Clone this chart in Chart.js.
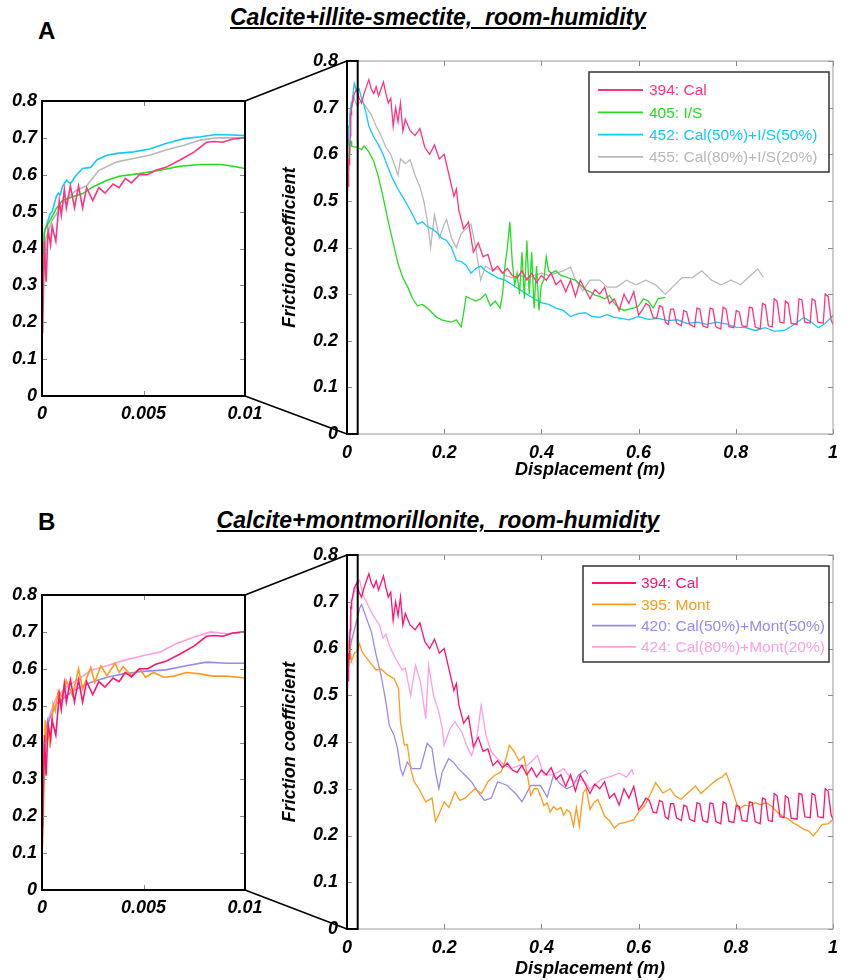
<!DOCTYPE html>
<html>
<head>
<meta charset="utf-8">
<script src="https://cdn.jsdelivr.net/npm/chart.js@4.4.1/dist/chart.umd.min.js"></script>
<style>
  body { margin: 0; width: 846px; height: 980px; position: relative; overflow: hidden; background: #fff;
         font-family: "Liberation Sans", Arial, sans-serif; }
  canvas { position: absolute; }
  .tag { position: absolute; font-weight: bold; font-size: 24px; line-height: 1; }
  .head { position: absolute; left: 0; width: 876px; text-align: center; font-weight: bold; font-style: italic;
          font-size: 23px; line-height: 1; text-decoration: underline; white-space: pre; }
</style>
</head>
<body>
<div class="tag" style="left:38px;top:19px">A</div>
<div class="head" style="top:6px">Calcite+illite-smectite,  room-humidity</div>
<div class="tag" style="left:38px;top:510px">B</div>
<div class="head" style="top:509px">Calcite+montmorillonite,  room-humidity</div>

<canvas id="links" width="846" height="980" style="left:0;top:0"></canvas>
<canvas id="insetA" width="272" height="345" style="left:0;top:85px"></canvas>
<canvas id="mainA" width="596" height="448" style="left:250px;top:40px"></canvas>
<canvas id="insetB" width="272" height="345" style="left:0;top:579px"></canvas>
<canvas id="mainB" width="596" height="446" style="left:250px;top:534px"></canvas>

<script>
// ---- tick values ----
const yTicks = [0, 0.1, 0.2, 0.3, 0.4, 0.5, 0.6, 0.7, 0.8];
const mainXTicks = [0, 0.2, 0.4, 0.6, 0.8, 1];
const insetXTicks = [0, 0.005, 0.01];
const zoomEdge = 0.022;   // right edge of the zoom box drawn on the main plot

// ---- series [displacement m, friction] : first 0.01 m (inset) ----
const cal394Early = [[0,0.35],[0.00003,0.17],[0.00012,0.42],[0.0002,0.31],[0.0003,0.45],[0.00042,0.41],[0.0005,0.46],[0.00068,0.42],[0.00085,0.53],[0.00095,0.49],[0.0011,0.56],[0.0012,0.51],[0.0014,0.57],[0.0016,0.51],[0.0018,0.57],[0.002,0.51],[0.0022,0.565],[0.0025,0.53],[0.0028,0.565],[0.0031,0.55],[0.0035,0.575],[0.0038,0.565],[0.0041,0.59],[0.0044,0.578],[0.0048,0.6],[0.0052,0.6],[0.0056,0.612],[0.0061,0.62],[0.0068,0.64],[0.0075,0.662],[0.0081,0.688],[0.0085,0.69],[0.0089,0.688],[0.0094,0.697],[0.01,0.7]];
const is405Early = [[0,0.3],[0.00005,0.32],[0.00013,0.45],[0.0004,0.476],[0.0007,0.508],[0.001,0.53],[0.0015,0.54],[0.002,0.549],[0.0025,0.567],[0.0032,0.585],[0.0038,0.596],[0.0048,0.603],[0.0058,0.612],[0.0068,0.623],[0.0078,0.628],[0.0088,0.628],[0.0094,0.623],[0.01,0.617]];
const mix452Early = [[0,0.25],[0.00005,0.29],[0.0001,0.44],[0.0004,0.494],[0.0005,0.5],[0.0007,0.54],[0.0008,0.55],[0.0009,0.545],[0.001,0.567],[0.0012,0.585],[0.0014,0.576],[0.0017,0.6],[0.002,0.617],[0.0024,0.62],[0.0027,0.64],[0.0032,0.653],[0.0037,0.658],[0.0045,0.662],[0.0053,0.67],[0.0061,0.685],[0.007,0.698],[0.0078,0.703],[0.0086,0.709],[0.0094,0.708],[0.01,0.706]];
const mix455Early = [[0,0.25],[0.00005,0.32],[0.0002,0.43],[0.0005,0.476],[0.0009,0.51],[0.0012,0.535],[0.0017,0.558],[0.0022,0.57],[0.0028,0.612],[0.0037,0.635],[0.0045,0.644],[0.0053,0.653],[0.0061,0.667],[0.007,0.68],[0.0078,0.694],[0.0086,0.7],[0.01,0.7]];
const mont395Early = [[0,0.1],[0.00005,0.154],[0.0001,0.33],[0.00016,0.46],[0.00025,0.4],[0.00033,0.44],[0.0004,0.386],[0.00055,0.504],[0.00065,0.486],[0.0008,0.54],[0.001,0.522],[0.0012,0.568],[0.0015,0.527],[0.0018,0.6],[0.002,0.545],[0.0024,0.604],[0.0026,0.563],[0.0029,0.608],[0.0032,0.581],[0.0036,0.615],[0.0038,0.59],[0.004,0.606],[0.0044,0.581],[0.0048,0.6],[0.0051,0.577],[0.0055,0.59],[0.006,0.577],[0.0065,0.58],[0.0071,0.59],[0.0078,0.586],[0.0084,0.58],[0.0091,0.58],[0.01,0.575]];
const mix420Early = [[0,0.2],[0.00005,0.295],[0.00016,0.43],[0.0004,0.468],[0.0007,0.504],[0.0012,0.527],[0.0017,0.545],[0.0024,0.563],[0.0032,0.577],[0.004,0.586],[0.005,0.593],[0.0061,0.597],[0.0071,0.608],[0.0081,0.618],[0.0091,0.615],[0.01,0.615]];
const mix424Early = [[0,0.2],[0.00005,0.3],[0.00016,0.44],[0.0004,0.477],[0.0007,0.522],[0.0012,0.55],[0.0017,0.568],[0.0024,0.595],[0.0032,0.608],[0.004,0.622],[0.005,0.636],[0.0058,0.645],[0.0066,0.668],[0.0075,0.686],[0.0083,0.7],[0.0091,0.695],[0.01,0.7]];

// ---- series after 0.01 m (main plots) ----
const cal394 = [[0.015,0.73],[0.02,0.74],[0.025,0.72],[0.03,0.71],[0.035,0.73],[0.04,0.745],[0.045,0.76],[0.05,0.74],[0.055,0.73],[0.06,0.745],[0.065,0.725],[0.07,0.74],[0.075,0.755],[0.08,0.73],[0.085,0.71],[0.09,0.72],[0.095,0.66],[0.1,0.7],[0.105,0.67],[0.11,0.71],[0.115,0.65],[0.12,0.675],[0.13,0.65],[0.14,0.64],[0.15,0.655],[0.16,0.615],[0.17,0.6],[0.18,0.62],[0.19,0.59],[0.2,0.6],[0.21,0.555],[0.22,0.51],[0.225,0.525],[0.23,0.48],[0.24,0.44],[0.25,0.455],[0.26,0.39],[0.27,0.41],[0.28,0.38],[0.29,0.385],[0.3,0.35],[0.31,0.36],[0.32,0.345],[0.33,0.355],[0.34,0.34],[0.35,0.335],[0.36,0.35],[0.37,0.33],[0.38,0.345],[0.39,0.325],[0.4,0.34],[0.41,0.33],[0.42,0.345],[0.43,0.32],[0.44,0.33],[0.45,0.305],[0.46,0.33],[0.47,0.295],[0.48,0.33],[0.49,0.31],[0.5,0.29],[0.51,0.31],[0.52,0.3],[0.53,0.315],[0.54,0.28],[0.55,0.29],[0.56,0.265],[0.57,0.3],[0.58,0.28],[0.59,0.305],[0.6,0.255],[0.607,0.265],[0.615,0.28],[0.622,0.275],[0.63,0.25],[0.637,0.248],[0.643,0.275],[0.649,0.272],[0.655,0.24],[0.661,0.235],[0.666,0.268],[0.672,0.268],[0.678,0.238],[0.688,0.232],[0.693,0.265],[0.699,0.262],[0.705,0.235],[0.715,0.23],[0.72,0.27],[0.726,0.268],[0.732,0.232],[0.742,0.228],[0.747,0.27],[0.753,0.268],[0.759,0.23],[0.769,0.225],[0.774,0.272],[0.78,0.268],[0.786,0.23],[0.796,0.228],[0.801,0.265],[0.807,0.262],[0.813,0.232],[0.823,0.23],[0.828,0.272],[0.834,0.27],[0.84,0.23],[0.85,0.225],[0.855,0.28],[0.861,0.277],[0.867,0.232],[0.875,0.23],[0.879,0.29],[0.885,0.285],[0.891,0.24],[0.899,0.238],[0.902,0.285],[0.908,0.28],[0.914,0.237],[0.926,0.235],[0.93,0.29],[0.936,0.288],[0.942,0.24],[0.953,0.238],[0.957,0.29],[0.963,0.286],[0.969,0.24],[0.98,0.238],[0.984,0.3],[0.99,0.295],[0.996,0.245],[1.0,0.235]];
const is405 = [[0.02,0.615],[0.03,0.61],[0.035,0.618],[0.045,0.605],[0.055,0.585],[0.065,0.55],[0.075,0.505],[0.085,0.455],[0.095,0.41],[0.105,0.365],[0.115,0.335],[0.125,0.315],[0.135,0.29],[0.145,0.275],[0.155,0.278],[0.165,0.27],[0.175,0.26],[0.185,0.25],[0.195,0.245],[0.205,0.242],[0.215,0.24],[0.225,0.245],[0.235,0.23],[0.24,0.26],[0.245,0.295],[0.255,0.29],[0.265,0.285],[0.275,0.29],[0.285,0.3],[0.295,0.275],[0.305,0.285],[0.315,0.27],[0.32,0.3],[0.325,0.36],[0.33,0.4],[0.335,0.455],[0.34,0.37],[0.345,0.32],[0.35,0.345],[0.355,0.3],[0.36,0.39],[0.365,0.29],[0.37,0.415],[0.375,0.3],[0.38,0.39],[0.385,0.27],[0.39,0.36],[0.395,0.265],[0.4,0.32],[0.405,0.33],[0.41,0.38],[0.415,0.35],[0.42,0.345],[0.43,0.35],[0.44,0.34],[0.45,0.337],[0.46,0.333],[0.47,0.33],[0.48,0.32],[0.49,0.31],[0.5,0.305],[0.51,0.298],[0.52,0.295],[0.53,0.29],[0.54,0.297],[0.55,0.28],[0.56,0.27],[0.57,0.265],[0.58,0.268],[0.59,0.27],[0.6,0.275],[0.61,0.29],[0.62,0.285],[0.63,0.27],[0.64,0.29],[0.655,0.293]];
const mix452 = [[0.015,0.752],[0.02,0.735],[0.025,0.74],[0.03,0.72],[0.035,0.705],[0.04,0.685],[0.045,0.66],[0.055,0.637],[0.065,0.62],[0.075,0.598],[0.085,0.57],[0.095,0.545],[0.105,0.525],[0.115,0.508],[0.125,0.49],[0.135,0.47],[0.145,0.45],[0.155,0.455],[0.165,0.445],[0.175,0.44],[0.185,0.432],[0.195,0.42],[0.205,0.415],[0.215,0.4],[0.225,0.372],[0.235,0.37],[0.245,0.362],[0.255,0.345],[0.265,0.355],[0.275,0.36],[0.285,0.35],[0.295,0.344],[0.31,0.335],[0.325,0.33],[0.34,0.32],[0.355,0.31],[0.37,0.3],[0.385,0.29],[0.4,0.282],[0.415,0.278],[0.43,0.27],[0.445,0.265],[0.46,0.252],[0.475,0.258],[0.49,0.26],[0.505,0.252],[0.52,0.25],[0.535,0.256],[0.55,0.25],[0.565,0.248],[0.58,0.245],[0.6,0.252],[0.62,0.246],[0.64,0.248],[0.66,0.243],[0.68,0.245],[0.7,0.237],[0.72,0.24],[0.74,0.235],[0.76,0.24],[0.78,0.236],[0.8,0.229],[0.82,0.228],[0.84,0.222],[0.86,0.228],[0.88,0.22],[0.9,0.222],[0.92,0.235],[0.94,0.25],[0.955,0.24],[0.97,0.228],[0.985,0.238],[1.0,0.254]];
const mix455 = [[0.015,0.72],[0.02,0.705],[0.03,0.715],[0.04,0.7],[0.05,0.685],[0.06,0.66],[0.07,0.64],[0.08,0.615],[0.09,0.6],[0.1,0.57],[0.105,0.555],[0.11,0.59],[0.12,0.58],[0.13,0.588],[0.14,0.555],[0.15,0.53],[0.158,0.5],[0.165,0.46],[0.172,0.4],[0.18,0.47],[0.19,0.42],[0.2,0.45],[0.205,0.46],[0.215,0.42],[0.225,0.4],[0.235,0.43],[0.245,0.44],[0.255,0.45],[0.265,0.4],[0.275,0.33],[0.285,0.36],[0.3,0.35],[0.31,0.355],[0.325,0.34],[0.34,0.335],[0.355,0.34],[0.37,0.335],[0.385,0.34],[0.4,0.345],[0.415,0.34],[0.43,0.345],[0.445,0.35],[0.46,0.358],[0.47,0.33],[0.485,0.307],[0.5,0.33],[0.52,0.33],[0.535,0.315],[0.555,0.315],[0.575,0.33],[0.595,0.32],[0.615,0.33],[0.635,0.32],[0.655,0.3],[0.67,0.315],[0.69,0.336],[0.71,0.335],[0.73,0.35],[0.75,0.33],[0.77,0.32],[0.79,0.33],[0.81,0.32],[0.825,0.335],[0.845,0.354],[0.857,0.336]];
const mont395 = [[0.015,0.59],[0.02,0.593],[0.026,0.61],[0.03,0.595],[0.036,0.586],[0.046,0.572],[0.06,0.554],[0.07,0.556],[0.084,0.543],[0.097,0.536],[0.106,0.514],[0.11,0.443],[0.118,0.393],[0.124,0.395],[0.131,0.343],[0.138,0.315],[0.148,0.3],[0.162,0.272],[0.175,0.28],[0.182,0.23],[0.189,0.245],[0.2,0.272],[0.21,0.26],[0.222,0.293],[0.232,0.275],[0.243,0.28],[0.253,0.29],[0.263,0.3],[0.277,0.29],[0.29,0.315],[0.304,0.329],[0.317,0.336],[0.327,0.364],[0.334,0.393],[0.344,0.38],[0.354,0.36],[0.364,0.37],[0.371,0.33],[0.378,0.286],[0.385,0.3],[0.392,0.3],[0.4,0.28],[0.405,0.264],[0.412,0.27],[0.418,0.25],[0.425,0.262],[0.432,0.255],[0.44,0.26],[0.446,0.243],[0.452,0.255],[0.459,0.25],[0.466,0.22],[0.472,0.26],[0.478,0.22],[0.486,0.291],[0.492,0.3],[0.5,0.256],[0.508,0.27],[0.516,0.277],[0.523,0.26],[0.53,0.241],[0.54,0.232],[0.55,0.216],[0.56,0.225],[0.568,0.227],[0.58,0.23],[0.59,0.234],[0.6,0.25],[0.612,0.263],[0.625,0.29],[0.635,0.313],[0.65,0.291],[0.665,0.3],[0.675,0.285],[0.687,0.277],[0.7,0.29],[0.717,0.306],[0.728,0.29],[0.739,0.3],[0.75,0.31],[0.762,0.32],[0.772,0.325],[0.78,0.334],[0.79,0.306],[0.798,0.28],[0.806,0.256],[0.818,0.265],[0.829,0.263],[0.84,0.27],[0.851,0.266],[0.862,0.27],[0.873,0.263],[0.885,0.25],[0.896,0.241],[0.907,0.236],[0.918,0.227],[0.93,0.22],[0.94,0.213],[0.95,0.21],[0.959,0.199],[0.968,0.21],[0.978,0.224],[0.99,0.225],[1.0,0.234]];
const mix420 = [[0.016,0.643],[0.026,0.686],[0.03,0.694],[0.04,0.665],[0.05,0.636],[0.06,0.586],[0.07,0.543],[0.08,0.486],[0.087,0.436],[0.097,0.414],[0.104,0.386],[0.11,0.343],[0.115,0.329],[0.124,0.357],[0.134,0.343],[0.151,0.343],[0.165,0.397],[0.175,0.386],[0.182,0.336],[0.189,0.3],[0.196,0.336],[0.209,0.364],[0.219,0.357],[0.229,0.343],[0.243,0.329],[0.256,0.315],[0.27,0.293],[0.283,0.275],[0.297,0.28],[0.31,0.315],[0.33,0.307],[0.35,0.286],[0.36,0.272],[0.378,0.307],[0.398,0.307],[0.412,0.282],[0.425,0.329],[0.439,0.31],[0.452,0.3],[0.466,0.307],[0.476,0.329],[0.49,0.34],[0.496,0.332]];
const mix424 = [[0.015,0.72],[0.02,0.735],[0.026,0.746],[0.033,0.715],[0.043,0.693],[0.053,0.672],[0.067,0.65],[0.074,0.622],[0.08,0.63],[0.087,0.607],[0.1,0.578],[0.114,0.554],[0.12,0.558],[0.131,0.5],[0.141,0.564],[0.151,0.529],[0.162,0.45],[0.168,0.564],[0.178,0.5],[0.189,0.464],[0.196,0.429],[0.2,0.393],[0.212,0.429],[0.222,0.443],[0.236,0.422],[0.246,0.393],[0.256,0.371],[0.266,0.4],[0.276,0.479],[0.286,0.414],[0.297,0.379],[0.31,0.364],[0.324,0.35],[0.338,0.343],[0.354,0.35],[0.371,0.35],[0.392,0.371],[0.405,0.329],[0.425,0.33],[0.446,0.343],[0.466,0.315],[0.486,0.32],[0.5,0.3],[0.523,0.32],[0.545,0.327],[0.56,0.334],[0.575,0.325],[0.586,0.341],[0.59,0.33]];

const labelsA = ['394: Cal', '405: I/S', '452: Cal(50%)+I/S(50%)', '455: Cal(80%)+I/S(20%)'];
const labelsB = ['394: Cal', '395: Mont', '420: Cal(50%)+Mont(50%)', '424: Cal(80%)+Mont(20%)'];
const colorsA = ['#ff3380', '#22dd22', '#11c8ff', '#b8b8b8'];
const colorsB = ['#ff1270', '#ff9a1a', '#9a88ee', '#ff9ee0'];
const seriesA = [[cal394Early, cal394], [is405Early, is405], [mix452Early, mix452], [mix455Early, mix455]];
const seriesB = [[cal394Early, cal394], [mont395Early, mont395], [mix420Early, mix420], [mix424Early, mix424]];

const FAMILY = '"Liberation Sans", Arial, sans-serif';

// inward ticks on all four sides + frame (+ zoom box on the main plots)
const frameTicks = {
    id: 'frameTicks',
    afterDatasetsDraw(chart, args, o) {
        const { ctx, chartArea: a, scales: { x, y } } = chart;
        ctx.save();
        ctx.strokeStyle = '#8a8a8a';
        ctx.lineWidth = 1;
        ctx.beginPath();
        x.ticks.forEach(t => {
            const px = Math.round(x.getPixelForValue(t.value)) + 0.5;
            ctx.moveTo(px, a.bottom); ctx.lineTo(px, a.bottom - 5);
            ctx.moveTo(px, a.top); ctx.lineTo(px, a.top + 5);
        });
        y.ticks.forEach(t => {
            const py = Math.round(y.getPixelForValue(t.value)) + 0.5;
            ctx.moveTo(a.left, py); ctx.lineTo(a.left + 5, py);
            ctx.moveTo(a.right, py); ctx.lineTo(a.right - 5, py);
        });
        ctx.stroke();
        ctx.strokeStyle = o.frameColor;
        ctx.lineWidth = o.frameWidth;
        ctx.strokeRect(a.left, a.top, a.width, a.height);
        if (o.zoomTo) {
            const x0 = x.getPixelForValue(0), x1 = x.getPixelForValue(o.zoomTo);
            ctx.strokeStyle = '#000';
            ctx.lineWidth = 2;
            ctx.strokeRect(x0, a.top, x1 - x0, a.height);
        }
        ctx.restore();
    }
};

// boxed legend with coloured text, placed inside the plot
const boxLegend = {
    id: 'boxLegend',
    afterDraw(chart, args, o) {
        if (!o.box) return;
        const ctx = chart.ctx, b = o.box;
        ctx.save();
        ctx.fillStyle = '#fff';
        ctx.fillRect(b.x, b.y, b.w, b.h);
        ctx.strokeStyle = '#333';
        ctx.lineWidth = 1.5;
        ctx.strokeRect(b.x, b.y, b.w, b.h);
        ctx.font = `15.5px ${FAMILY}`;
        ctx.textBaseline = 'middle';
        chart.data.datasets.forEach((ds, i) => {
            const yy = b.row0 + i * b.dy;
            ctx.strokeStyle = ds.borderColor;
            ctx.lineWidth = 1.8;
            ctx.beginPath(); ctx.moveTo(b.l0, yy); ctx.lineTo(b.l1, yy); ctx.stroke();
            ctx.fillStyle = ds.borderColor;
            ctx.fillText(ds.label, b.tx, yy + 1);
        });
        ctx.restore();
    }
};

function makeChart(id, cfg) {
    const tickFont = { family: FAMILY, size: 18, weight: 'bold', style: 'italic' };
    const titleFont = { family: FAMILY, size: 18, weight: 'bold', style: 'italic' };
    const xTicks = cfg.inset ? insetXTicks : mainXTicks;
    return new Chart(document.getElementById(id), {
        type: 'line',
        data: {
            datasets: cfg.series.map((s, i) => ({
                label: cfg.labels[i],
                data: s[0].concat(s[1]).map(p => ({ x: p[0], y: p[1] })),
                borderColor: cfg.colors[i],
                borderWidth: cfg.inset ? 1.6 : 1.3,
                pointRadius: 0,
                tension: 0,
                fill: false
            }))
        },
        options: {
            responsive: false, animation: false, events: [], devicePixelRatio: 1,
            layout: { padding: cfg.pad },
            plugins: {
                legend: { display: false }, tooltip: { enabled: false },
                frameTicks: { frameColor: cfg.inset ? '#000' : '#9a9a9a', frameWidth: cfg.inset ? 2 : 1, zoomTo: cfg.inset ? 0 : zoomEdge },
                boxLegend: { box: cfg.legend }
            },
            scales: {
                x: {
                    type: 'linear', min: 0, max: cfg.inset ? 0.01 : 1,
                    afterBuildTicks: s => { s.ticks = xTicks.map(v => ({ value: v })); },
                    afterFit: s => { s.height = cfg.xH; },
                    grid: { display: false, drawTicks: false }, border: { display: false },
                    ticks: { color: '#000', font: tickFont, padding: cfg.inset ? 7 : 8, maxRotation: 0, autoSkip: false, callback: v => String(v) },
                    title: { display: !cfg.inset, text: 'Displacement (m)', color: '#000', font: titleFont, padding: { top: 0, bottom: cfg.xTitlePad } }
                },
                y: {
                    min: 0, max: 0.8,
                    afterBuildTicks: s => { s.ticks = yTicks.map(v => ({ value: v })); },
                    afterFit: s => { s.width = cfg.yW; },
                    grid: { display: false, drawTicks: false }, border: { display: false },
                    ticks: { color: '#000', font: tickFont, padding: cfg.inset ? 5 : 9, callback: v => String(v) },
                    title: { display: !cfg.inset, text: 'Friction coefficient', color: '#000', font: titleFont, padding: { top: 29, bottom: 0 } }
                }
            }
        },
        plugins: [frameTicks, boxLegend]
    });
}

const insetA = makeChart('insetA', { inset: true, series: seriesA, labels: labelsA, colors: colorsA, yW: 42, xH: 34, pad: { left: 0, right: 27, top: 16, bottom: 0 } });
const mainA = makeChart('mainA', { inset: false, series: seriesA, labels: labelsA, colors: colorsA, yW: 97, xH: 54, xTitlePad: 7,
    pad: { left: 0, right: 6, top: 21, bottom: 0 },
    legend: { x: 339, y: 32, w: 240, h: 100, row0: 50, dy: 22.3, l0: 348, l1: 393, tx: 399 } });
const insetB = makeChart('insetB', { inset: true, series: seriesB, labels: labelsB, colors: colorsB, yW: 42, xH: 34, pad: { left: 0, right: 27, top: 16, bottom: 0 } });
const mainB = makeChart('mainB', { inset: false, series: seriesB, labels: labelsB, colors: colorsB, yW: 97, xH: 51, xTitlePad: 0,
    pad: { left: 0, right: 6, top: 21, bottom: 0 },
    legend: { x: 333, y: 32, w: 246, h: 96, row0: 49, dy: 21.3, l0: 342, l1: 386, tx: 391 } });

// lines joining the inset corners to the zoom box
function drawLinks(inset, main) {
    const ctx = document.getElementById('links').getContext('2d');
    const ia = inset.chartArea, ma = main.chartArea;
    const ix = inset.canvas.offsetLeft + ia.right, iy = inset.canvas.offsetTop;
    const bx = main.canvas.offsetLeft + main.scales.x.getPixelForValue(0), my = main.canvas.offsetTop;
    ctx.save();
    ctx.strokeStyle = '#000';
    ctx.lineWidth = 1.6;
    ctx.beginPath();
    ctx.moveTo(ix, iy + ia.top); ctx.lineTo(bx, my + ma.top);
    ctx.moveTo(ix, iy + ia.bottom); ctx.lineTo(bx, my + ma.bottom);
    ctx.stroke();
    ctx.restore();
}
drawLinks(insetA, mainA);
drawLinks(insetB, mainB);
</script>
</body>
</html>
